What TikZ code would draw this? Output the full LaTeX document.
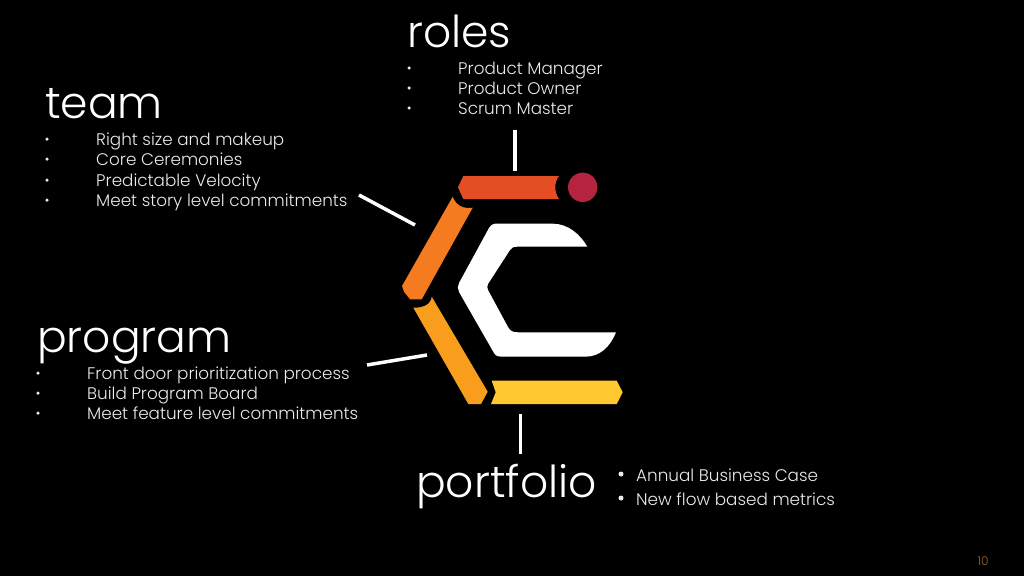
\documentclass[tikz,border=0pt]{standalone}
\usepackage{fontspec}
\setmainfont{Poppins}[UprightFont=* Light]
\definecolor{barred}{HTML}{E34E25}
\definecolor{barorange}{HTML}{F47B20}
\definecolor{baramber}{HTML}{F99D1C}
\definecolor{baryellow}{HTML}{FFC82E}
\definecolor{dotred}{HTML}{B5243F}
\definecolor{numcolor}{HTML}{A5662A}
\tikzset{
  heading/.style={anchor=base west,text=white,inner sep=0pt,font=\fontsize{44}{44}\selectfont},
  itemtext/.style={anchor=base west,text=white!92!black,inner sep=0pt,font=\fontsize{16.8}{20}\selectfont},
  bulletdot/.style={circle,fill=white!92!black,inner sep=0pt,minimum size=3.5pt},
  leader/.style={white,line width=3.5pt}
}
\begin{document}
\begin{tikzpicture}[x=1pt,y=-1pt]
    \fill[black] (0,0) rectangle (1024,576);
    \useasboundingbox (0,0) rectangle (1024,576);
    % logo
    \fill[barred] (463.3,176)--(559,176) .. controls (554,182) and (554,192) .. (559,199)--(463.3,199)--(458,187.3)--cycle;
    \fill[barorange] (452.7,196.7) .. controls (456,206) and (464,209) .. (472.7,207.7)--(421.7,299.3)--(410,299.3)--(404,291.7)--(402,286)--cycle;
    \fill[baramber] (413.3,307.7) .. controls (424,308) and (431,304) .. (431.7,296.7)--(487.7,391.7)--(481,404)--(468.3,404)--cycle;
    \fill[baryellow] (491.7,380.7)--(616.7,380.7)--(622.7,392.3)--(616.7,404)--(491,404)--(495.7,392.3)--cycle;
    \fill[dotred] (582.7,187.3) circle (14.7);
    \fill[white] (495,223.7)--(553.3,223.7) .. controls (568,224) and (580,234) .. (587.3,246.7)
      --(517,246.7) .. controls (513,246.7) and (511.5,248) .. (510,250)
      --(488,284) .. controls (487,286) and (487,288) .. (488,290)
      --(508,327) .. controls (510,331) and (513,332.3) .. (518,332.3)
      --(616,332.3) .. controls (610,347) and (600,356.7) .. (585,356.7)
      --(501,356.7) .. controls (498,356.7) and (496,356) .. (494,353)
      --(459,292) .. controls (457.5,289) and (457.5,286) .. (459,283)
      --(489,228) .. controls (491,225) and (493,223.7) .. (495,223.7)--cycle;
    % headings
    \node[heading] (roles) at (407,47) {roles};
    \node[heading] (team) at (45,118) {team};
    \node[heading] (program) at (37,352) {program};
    \node[heading] (portfolio) at (416,497) {portfolio};
    % lists
    \foreach \n/\y/\t in {a/74/Product Manager,b/94/Product Owner,c/114/Scrum Master}{
      \node[bulletdot] (rolesdot\n) at (409,\y-6) {};
      \node[itemtext] (roles\n) at (458,\y) {\t};
    }
    \foreach \n/\y/\t in {a/145/Right size and makeup,b/165/Core Ceremonies,c/186/Predictable Velocity,d/206/Meet story level commitments}{
      \node[bulletdot] (teamdot\n) at (47,\y-6) {};
      \node[itemtext] (team\n) at (96,\y) {\t};
    }
    \foreach \n/\y/\t in {a/379/Front door prioritization process,b/399/Build Program Board,c/419/Meet feature level commitments}{
      \node[bulletdot] (programdot\n) at (38,\y-6) {};
      \node[itemtext] (program\n) at (87,\y) {\t};
    }
    \foreach \n/\y/\t in {a/481/Annual Business Case,b/505/New flow based metrics}{
      \node[bulletdot,minimum size=5pt] (portfoliodot\n) at (621,\y-7) {};
      \node[itemtext] (portfolio\n) at (636,\y) {\t};
    }
    \node[anchor=base,text=numcolor,inner sep=0pt,font=\fontsize{12}{12}\selectfont] (pagenum) at (983,565) {10};
    % leaders
    \coordinate (rolesa1) at (515,130);
    \coordinate (rolesa2) at (515,170.5);
    \coordinate (teama1) at (359,195);
    \coordinate (teama2) at (415,225);
    \coordinate (proga1) at (367,365);
    \coordinate (proga2) at (427,355);
    \coordinate (porta1) at (520.5,414);
    \coordinate (porta2) at (520.5,453.5);
    \draw[leader] (rolesa1)--(rolesa2);
    \draw[leader] (teama1)--(teama2);
    \draw[leader] (proga1)--(proga2);
    \draw[leader] (porta1)--(porta2);
  \end{tikzpicture}
\end{document}
